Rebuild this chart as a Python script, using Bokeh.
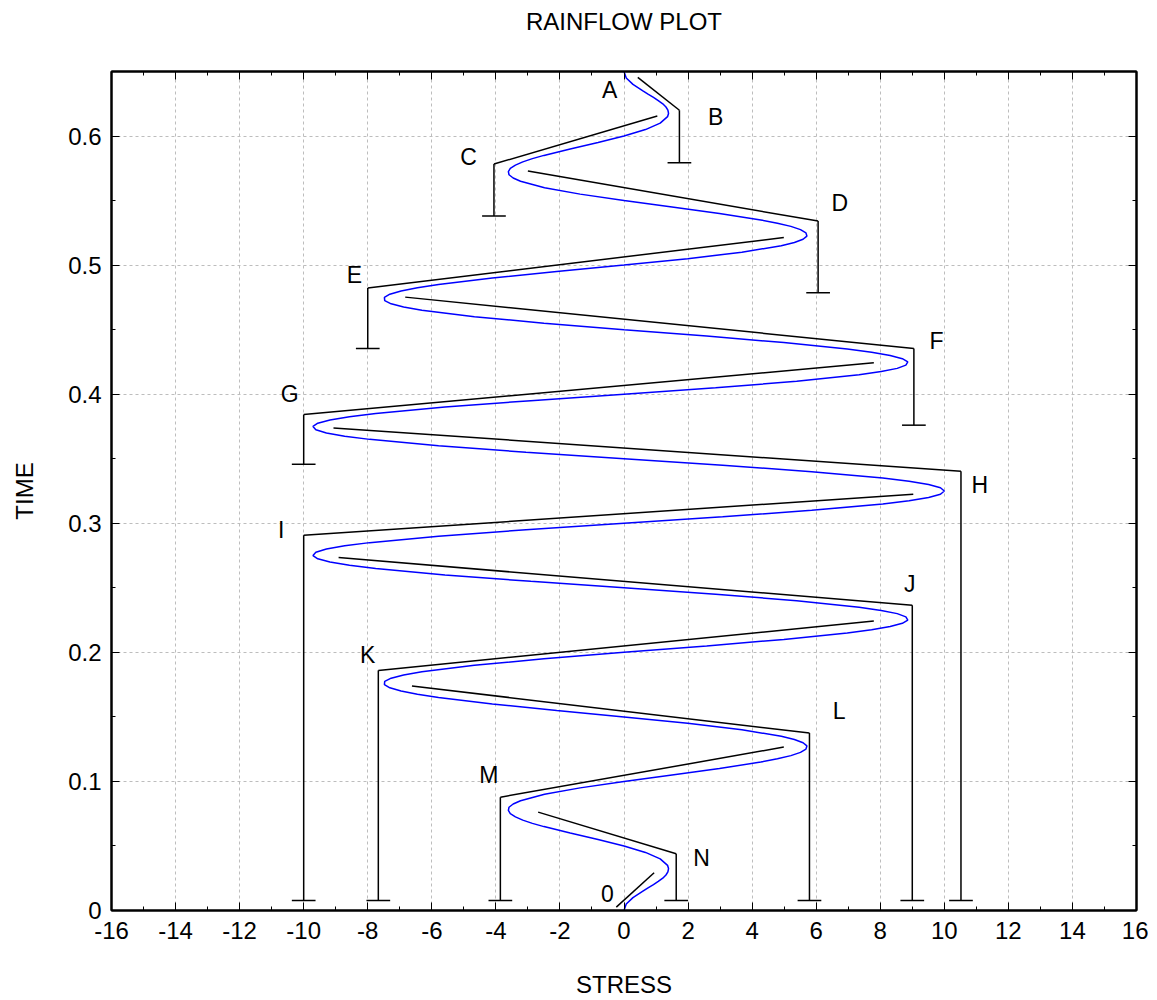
from bokeh.plotting import figure
from bokeh.models import ColumnDataSource, LinearAxis, FixedTicker, Range1d
from bokeh.embed import file_html
from bokeh.resources import INLINE
from bokeh.core.properties import value

FONT = "Liberation Sans"

# ---- stress-time history (blue curve) ----
curve_time = [
    0.0, 0.005, 0.01, 0.015, 0.0175, 0.02, 0.0225, 0.025, 0.0275, 0.03, 0.0325, 0.035, 0.04, 0.045,
    0.05, 0.055, 0.06, 0.065, 0.0675, 0.07, 0.0725, 0.075, 0.0775, 0.08, 0.0825, 0.085, 0.09, 0.095,
    0.1, 0.105, 0.11, 0.115, 0.1175, 0.12, 0.1225, 0.125, 0.1275, 0.13, 0.1325, 0.135, 0.14, 0.145,
    0.15, 0.155, 0.16, 0.165, 0.1675, 0.17, 0.1725, 0.175, 0.1775, 0.18, 0.1825, 0.185, 0.19, 0.195,
    0.2, 0.205, 0.21, 0.215, 0.2175, 0.22, 0.2225, 0.225, 0.2275, 0.23, 0.2325, 0.235, 0.24, 0.245,
    0.25, 0.255, 0.26, 0.265, 0.2675, 0.27, 0.2725, 0.275, 0.2775, 0.28, 0.2825, 0.285, 0.29, 0.295,
    0.3, 0.305, 0.31, 0.315, 0.3175, 0.32, 0.3225, 0.325, 0.3275, 0.33, 0.3325, 0.335, 0.34, 0.345,
    0.35, 0.355, 0.36, 0.365, 0.3675, 0.37, 0.3725, 0.375, 0.3775, 0.38, 0.3825, 0.385, 0.39, 0.395,
    0.4, 0.405, 0.41, 0.415, 0.4175, 0.42, 0.4225, 0.425, 0.4275, 0.43, 0.4325, 0.435, 0.44, 0.445,
    0.45, 0.455, 0.46, 0.465, 0.4675, 0.47, 0.4725, 0.475, 0.4775, 0.48, 0.4825, 0.485, 0.49, 0.495,
    0.5, 0.505, 0.51, 0.515, 0.5175, 0.52, 0.5225, 0.525, 0.5275, 0.53, 0.5325, 0.535, 0.54, 0.545,
    0.55, 0.555, 0.56, 0.565, 0.5675, 0.57, 0.5725, 0.575, 0.5775, 0.58, 0.5825, 0.585, 0.59, 0.595,
    0.6, 0.605, 0.61, 0.615, 0.6175, 0.62, 0.6225, 0.625, 0.6275, 0.63, 0.6325, 0.635, 0.64, 0.645,
    0.65,
]
curve_stress = [
    0, 0.07, 0.28, 0.59, 0.75, 0.92, 1.07, 1.21, 1.31, 1.37, 1.39, 1.36, 1.13, 0.67,
    0, -0.81, -1.68, -2.50, -2.86, -3.16, -3.39, -3.55, -3.61, -3.59, -3.46, -3.23, -2.48, -1.37,
    0, 1.50, 2.98, 4.27, 4.79, 5.21, 5.51, 5.68, 5.71, 5.59, 5.32, 4.91, 3.68, 1.99,
    0, -2.10, -4.11, -5.79, -6.45, -6.96, -7.31, -7.48, -7.47, -7.27, -6.88, -6.31, -4.67, -2.50,
    0, 2.58, 4.99, 6.97, 7.73, 8.31, 8.69, 8.86, 8.80, 8.53, 8.03, 7.34, 5.39, 2.86,
    0, -2.91, -5.59, -7.75, -8.57, -9.18, -9.56, -9.71, -9.62, -9.29, -8.72, -7.94, -5.79, -3.06,
    0, 3.08, 5.86, 8.08, 8.90, 9.51, 9.88, 10.0, 9.88, 9.51, 8.90, 8.08, 5.86, 3.08,
    0, -3.06, -5.79, -7.94, -8.72, -9.29, -9.62, -9.71, -9.56, -9.18, -8.57, -7.75, -5.59, -2.91,
    0, 2.86, 5.39, 7.34, 8.03, 8.53, 8.80, 8.86, 8.69, 8.31, 7.73, 6.97, 4.99, 2.58,
    0, -2.50, -4.67, -6.31, -6.88, -7.27, -7.47, -7.48, -7.31, -6.96, -6.45, -5.79, -4.11, -2.10,
    0, 1.99, 3.68, 4.91, 5.32, 5.59, 5.71, 5.68, 5.51, 5.21, 4.79, 4.27, 2.98, 1.50,
    0, -1.37, -2.48, -3.23, -3.46, -3.59, -3.61, -3.55, -3.39, -3.16, -2.86, -2.50, -1.68, -0.81,
    0, 0.67, 1.13, 1.36, 1.39, 1.37, 1.31, 1.21, 1.07, 0.92, 0.75, 0.59, 0.28, 0.07,
    0,
]

# ---- rainflow paths: flow start -> corner -> drop to bottom ----
flow_names = ["N", "M", "L", "K", "J", "I", "H", "G", "F", "E", "D", "C", "B"]
flow_start_stress = [-2.68, 4.99, -6.62, 7.80, -8.91, 9.03, -9.07, 7.80, -6.83, 4.99, -3.00, 1.04, 0.43]
flow_start_time = [0.0762, 0.1266, 0.1739, 0.2243, 0.2734, 0.3225, 0.3739, 0.4243, 0.4752, 0.5214, 0.5729, 0.6155, 0.6455]
corner_stress = [1.63, -3.86, 5.79, -7.67, 9.00, -10.00, 10.52, -10.00, 9.05, -8.00, 6.06, -4.06, 1.73]
corner_time = [0.0439, 0.0878, 0.1375, 0.1860, 0.2364, 0.2907, 0.3403, 0.3842, 0.4354, 0.4822, 0.5341, 0.5783, 0.6200]
drop_end_time = [0.0078, 0.0078, 0.0078, 0.0078, 0.0078, 0.0078, 0.0078, 0.3457, 0.3760, 0.4354, 0.4786, 0.5380, 0.5793]

# first half cycle "0"
start_seg_stress = [-0.24, 0.94]
start_seg_time = [0.0026, 0.0292]

# ---- point labels ----
label_text = ["0", "N", "M", "L", "K", "J", "I", "H", "G", "F", "E", "D", "C", "B", "A"]
label_stress = [-0.52, 2.42, -4.22, 6.72, -8.00, 8.92, -10.70, 11.11, -10.44, 9.76, -8.42, 6.74, -4.85, 2.86, -0.45]
label_time = [0.0134, 0.0408, 0.1047, 0.1545, 0.1977, 0.2532, 0.2951, 0.3300, 0.4005, 0.4413, 0.4922, 0.5483, 0.5835, 0.6150, 0.6357]

# ---- axes ----
TITLE = "RAINFLOW PLOT"
x_ticks = [-16, -14, -12, -10, -8, -6, -4, -2, 0, 2, 4, 6, 8, 10, 12, 14, 16]
x_tick_labels = ["-16", "-14", "-12", "-10", "-8", "-6", "-4", "-2", "0", "2", "4", "6", "8", "10", "12", "14", "16"]
x_minor = [-15, -13, -11, -9, -7, -5, -3, -1, 1, 3, 5, 7, 9, 11, 13, 15]
y_ticks = [0, 0.1, 0.2, 0.3, 0.4, 0.5, 0.6]
y_tick_labels = ["0", "0.1", "0.2", "0.3", "0.4", "0.5", "0.6"]
y_minor = [0.05, 0.15, 0.25, 0.35, 0.45, 0.55]

TICK_HALF = 0.37

p = figure(
    title=None,
    width=1148, height=1000,
    x_range=Range1d(-16, 16), y_range=Range1d(0, 0.65),
    output_backend="svg", toolbar_location=None,
    min_border_left=111, min_border_right=12, min_border_top=71, min_border_bottom=90,
    background_fill_color="white", border_fill_color="white",
)

xt = FixedTicker(ticks=x_ticks, minor_ticks=x_minor)
yt = FixedTicker(ticks=y_ticks, minor_ticks=y_minor)

# mirrored tick axes (no tick labels); the top one carries the chart title
top_axis = LinearAxis(ticker=xt, major_label_overrides={t: "" for t in x_ticks},
                      major_label_standoff=0, axis_label=TITLE)
right_axis = LinearAxis(ticker=yt, major_label_overrides={t: "" for t in y_ticks},
                        major_label_standoff=0)
p.add_layout(top_axis, "above")
p.add_layout(right_axis, "right")

p.below[0].ticker = xt
p.left[0].ticker = yt
p.below[0].major_label_overrides = {t: s for t, s in zip(x_ticks, x_tick_labels)}
p.left[0].major_label_overrides = {t: s for t, s in zip(y_ticks, y_tick_labels)}

for ax in p.axis:
    ax.major_tick_in = 8
    ax.major_tick_out = 0
    ax.minor_tick_in = 4
    ax.minor_tick_out = 0
    ax.axis_line_color = "black"
    ax.axis_line_width = 2
    ax.major_tick_line_color = "black"
    ax.minor_tick_line_color = "black"
    ax.major_tick_line_width = 1
    ax.minor_tick_line_width = 1
    ax.major_label_text_font = FONT
    ax.axis_label_text_font = FONT
    ax.axis_label_text_font_style = "normal"
    ax.axis_label_text_color = "black"

top_axis.axis_label_text_font_size = "24px"
top_axis.axis_label_standoff = 37

p.below[0].axis_label = "STRESS"
p.left[0].axis_label = "TIME"
for ax in (p.below[0], p.left[0]):
    ax.major_label_text_font_size = "24px"
    ax.axis_label_text_font_size = "24px"
    ax.major_label_text_color = "black"
p.below[0].major_label_standoff = 11
p.below[0].axis_label_standoff = 29
p.left[0].major_label_standoff = 10
p.left[0].axis_label_standoff = 27

p.xgrid.ticker = xt
p.ygrid.ticker = yt
for g in (p.xgrid, p.ygrid):
    g.grid_line_color = "#bdbdbd"
    g.grid_line_dash = "3 3"
    g.grid_line_width = 1

p.outline_line_color = "black"
p.outline_line_width = 2

# blue curve
p.line(curve_stress, curve_time, line_color="#0000ff", line_width=1.5)

# flows
flows = ColumnDataSource(dict(
    xs=flow_start_stress, ts=flow_start_time,
    xc=corner_stress, tc=corner_time, tb=drop_end_time,
    xl=[c - TICK_HALF for c in corner_stress],
    xr=[c + TICK_HALF for c in corner_stress],
))
p.segment(x0="xs", y0="ts", x1="xc", y1="tc", source=flows, line_color="black", line_width=1.5)
p.segment(x0="xc", y0="tc", x1="xc", y1="tb", source=flows, line_color="black", line_width=1.5)
p.segment(x0="xl", y0="tb", x1="xr", y1="tb", source=flows, line_color="black", line_width=1.5)
p.line(start_seg_stress, start_seg_time, line_color="black", line_width=1.5)

labels = ColumnDataSource(dict(x=label_stress, y=label_time, text=label_text))
p.text(x="x", y="y", text="text", source=labels, text_font=value(FONT), text_font_size="23px",
       text_align="center", text_baseline="middle", text_color="black")

open("out.html", "w").write(file_html(p, INLINE))
